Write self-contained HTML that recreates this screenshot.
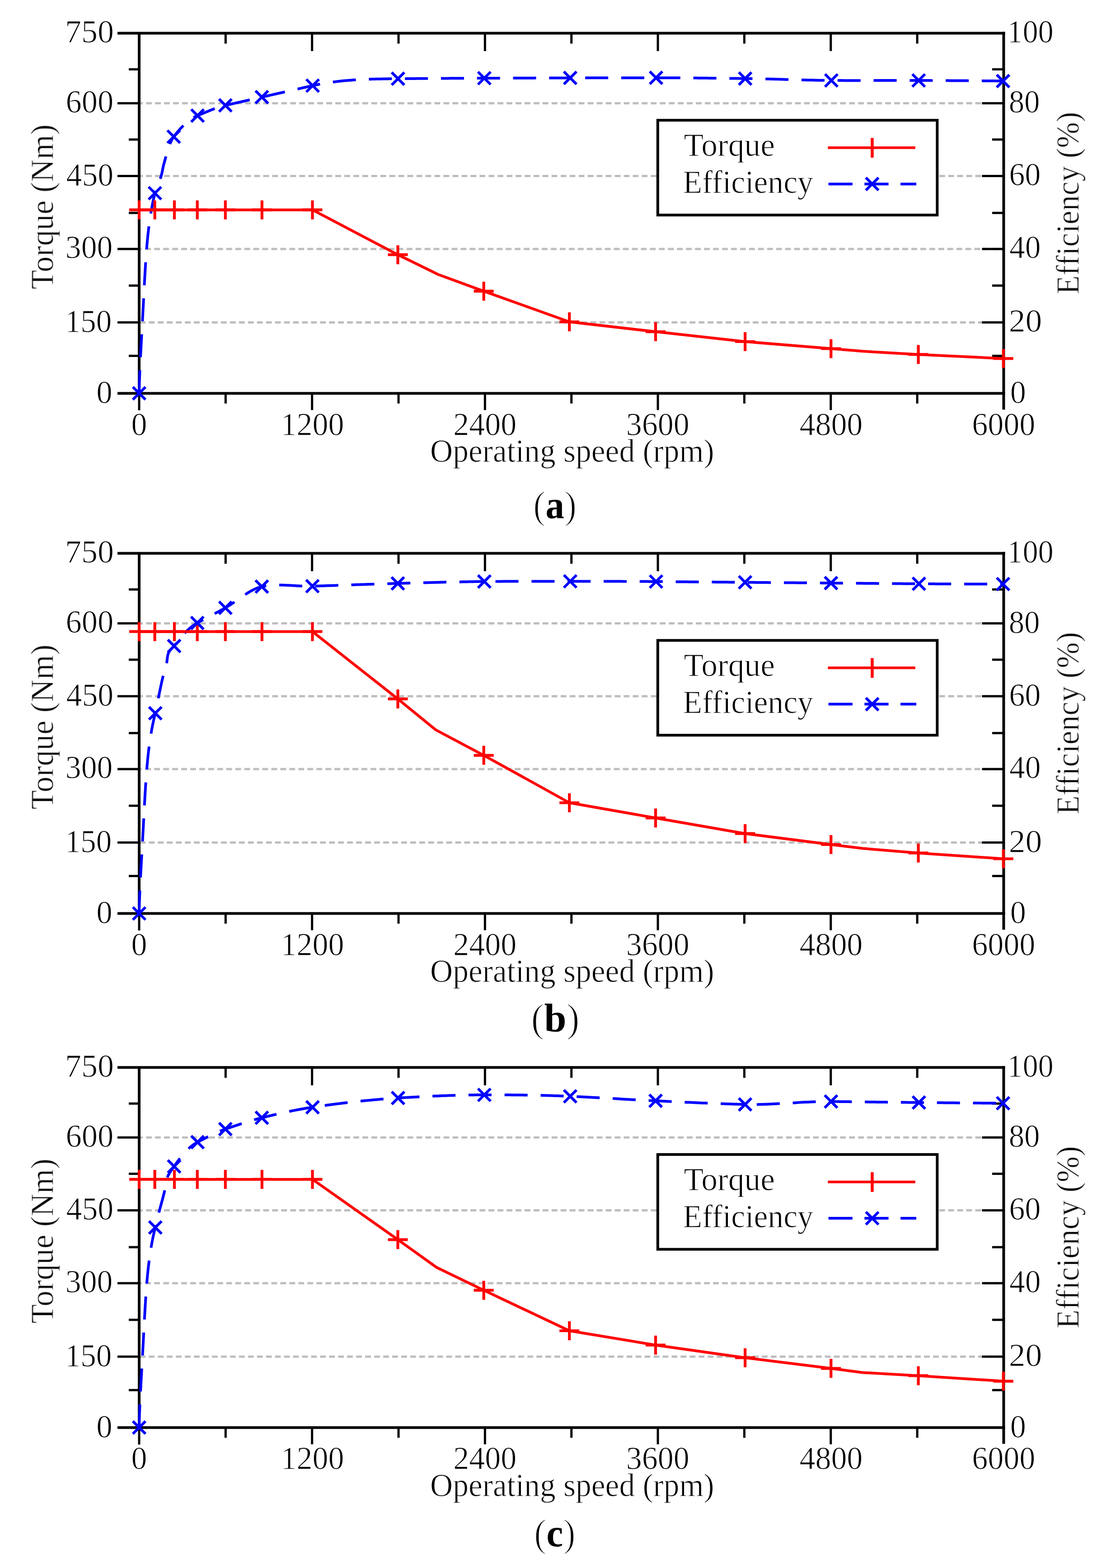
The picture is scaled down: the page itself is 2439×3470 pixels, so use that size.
<!DOCTYPE html>
<html><head><meta charset="utf-8"><title>Torque and efficiency vs operating speed</title>
<style>html,body{margin:0;padding:0;background:#fff;}svg{display:block;}text.t{stroke:#fff;stroke-width:1.1px;}tspan.p{stroke:#fff;stroke-width:2.2px;}</style></head>
<body><svg width="2439" height="3470" viewBox="0 0 2439 3470" font-family="'Liberation Serif','Times New Roman',serif" fill="#000" stroke-linecap="butt">
<defs><filter id="soft" x="0" y="0" width="2439" height="3470" filterUnits="userSpaceOnUse"><feGaussianBlur stdDeviation="0.55"/></filter></defs>
<rect width="2439" height="3470" fill="#fff"/>
<g filter="url(#soft)">
<line x1="308.00" y1="713.50" x2="2221.40" y2="713.50" stroke="#bebebe" stroke-width="5" stroke-dasharray="12.9 7.05" stroke-dashoffset="18.6"/>
<line x1="308.00" y1="551.00" x2="2221.40" y2="551.00" stroke="#bebebe" stroke-width="5" stroke-dasharray="12.9 7.05" stroke-dashoffset="6.75"/>
<line x1="308.00" y1="389.60" x2="2221.40" y2="389.60" stroke="#bebebe" stroke-width="5" stroke-dasharray="12.9 7.05" stroke-dashoffset="4.85"/>
<line x1="308.00" y1="228.40" x2="2221.40" y2="228.40" stroke="#bebebe" stroke-width="5" stroke-dasharray="12.9 7.05" stroke-dashoffset="4.85"/>
<line x1="308.00" y1="73.40" x2="308.00" y2="870.40" stroke="#000" stroke-width="6"/>
<line x1="260.00" y1="73.40" x2="2224.40" y2="73.40" stroke="#000" stroke-width="6"/>
<line x1="260.00" y1="870.40" x2="2224.40" y2="870.40" stroke="#000" stroke-width="6"/>
<line x1="2221.40" y1="70.40" x2="2221.40" y2="906.50" stroke="#000" stroke-width="6"/>
<line x1="285.00" y1="787.50" x2="308.00" y2="787.50" stroke="#000" stroke-width="5"/>
<line x1="2195.90" y1="787.50" x2="2221.40" y2="787.50" stroke="#000" stroke-width="5"/>
<line x1="260.00" y1="713.50" x2="308.00" y2="713.50" stroke="#000" stroke-width="5"/>
<line x1="2173.40" y1="713.50" x2="2221.40" y2="713.50" stroke="#000" stroke-width="5"/>
<line x1="285.00" y1="632.00" x2="308.00" y2="632.00" stroke="#000" stroke-width="5"/>
<line x1="2195.90" y1="632.00" x2="2221.40" y2="632.00" stroke="#000" stroke-width="5"/>
<line x1="260.00" y1="551.00" x2="308.00" y2="551.00" stroke="#000" stroke-width="5"/>
<line x1="2173.40" y1="551.00" x2="2221.40" y2="551.00" stroke="#000" stroke-width="5"/>
<line x1="285.00" y1="471.20" x2="308.00" y2="471.20" stroke="#000" stroke-width="5"/>
<line x1="2195.90" y1="471.20" x2="2221.40" y2="471.20" stroke="#000" stroke-width="5"/>
<line x1="260.00" y1="389.60" x2="308.00" y2="389.60" stroke="#000" stroke-width="5"/>
<line x1="2173.40" y1="389.60" x2="2221.40" y2="389.60" stroke="#000" stroke-width="5"/>
<line x1="285.00" y1="308.80" x2="308.00" y2="308.80" stroke="#000" stroke-width="5"/>
<line x1="2195.90" y1="308.80" x2="2221.40" y2="308.80" stroke="#000" stroke-width="5"/>
<line x1="260.00" y1="228.40" x2="308.00" y2="228.40" stroke="#000" stroke-width="5"/>
<line x1="2173.40" y1="228.40" x2="2221.40" y2="228.40" stroke="#000" stroke-width="5"/>
<line x1="285.00" y1="153.40" x2="308.00" y2="153.40" stroke="#000" stroke-width="5"/>
<line x1="2195.90" y1="153.40" x2="2221.40" y2="153.40" stroke="#000" stroke-width="5"/>
<line x1="308.00" y1="870.40" x2="308.00" y2="908.00" stroke="#000" stroke-width="5"/>
<line x1="499.34" y1="870.40" x2="499.34" y2="893.00" stroke="#000" stroke-width="5"/>
<line x1="499.34" y1="73.40" x2="499.34" y2="96.50" stroke="#000" stroke-width="5"/>
<line x1="690.68" y1="870.40" x2="690.68" y2="907.50" stroke="#000" stroke-width="5"/>
<line x1="690.68" y1="73.40" x2="690.68" y2="113.00" stroke="#000" stroke-width="5"/>
<line x1="882.02" y1="870.40" x2="882.02" y2="893.00" stroke="#000" stroke-width="5"/>
<line x1="882.02" y1="73.40" x2="882.02" y2="96.50" stroke="#000" stroke-width="5"/>
<line x1="1073.36" y1="870.40" x2="1073.36" y2="907.50" stroke="#000" stroke-width="5"/>
<line x1="1073.36" y1="73.40" x2="1073.36" y2="113.00" stroke="#000" stroke-width="5"/>
<line x1="1264.70" y1="870.40" x2="1264.70" y2="893.00" stroke="#000" stroke-width="5"/>
<line x1="1264.70" y1="73.40" x2="1264.70" y2="96.50" stroke="#000" stroke-width="5"/>
<line x1="1456.04" y1="870.40" x2="1456.04" y2="907.50" stroke="#000" stroke-width="5"/>
<line x1="1456.04" y1="73.40" x2="1456.04" y2="113.00" stroke="#000" stroke-width="5"/>
<line x1="1647.38" y1="870.40" x2="1647.38" y2="893.00" stroke="#000" stroke-width="5"/>
<line x1="1647.38" y1="73.40" x2="1647.38" y2="96.50" stroke="#000" stroke-width="5"/>
<line x1="1838.72" y1="870.40" x2="1838.72" y2="907.50" stroke="#000" stroke-width="5"/>
<line x1="1838.72" y1="73.40" x2="1838.72" y2="113.00" stroke="#000" stroke-width="5"/>
<line x1="2030.06" y1="870.40" x2="2030.06" y2="893.00" stroke="#000" stroke-width="5"/>
<line x1="2030.06" y1="73.40" x2="2030.06" y2="96.50" stroke="#000" stroke-width="5"/>
<polyline points="308.00,870.40 308.09,864.86 308.21,859.33 308.34,853.79 308.50,848.25 308.67,842.72 308.87,837.18 309.07,831.65 309.29,826.11 309.52,820.57 309.77,815.04 310.02,809.50 310.28,803.97 310.55,798.43 310.83,792.89 311.12,787.36 311.40,781.82 311.70,776.28 311.99,770.75 312.29,765.21 312.59,759.67 312.90,754.14 313.20,748.60 313.50,743.07 313.81,737.53 314.11,731.99 314.41,726.46 314.71,720.92 315.01,715.38 315.31,709.85 315.61,704.31 315.90,698.78 316.19,693.24 316.49,687.70 316.78,682.17 317.07,676.63 317.35,671.10 317.64,665.56 317.93,660.02 318.22,654.49 318.50,648.95 318.79,643.41 319.08,637.88 319.38,632.34 319.67,626.80 319.97,621.27 320.28,615.73 320.59,610.20 320.90,604.66 321.23,599.12 321.56,593.59 321.90,588.05 322.25,582.51 322.62,576.98 322.99,571.44 323.38,565.91 323.79,560.37 324.22,554.83 324.66,549.30 325.12,543.76 325.61,538.23 326.12,532.69 326.65,527.15 327.21,521.62 327.80,516.08 328.42,510.54 329.08,505.01 329.77,499.47 330.49,493.94 331.25,488.40 332.06,482.86 332.91,477.33 333.80,471.79 334.75,466.25 335.74,460.72 336.79,455.18 337.89,449.65 339.05,444.11 340.27,438.57 341.55,433.04 342.90,427.50 343.36,426.23 343.83,424.95 344.31,423.67 344.79,422.39 345.27,421.10 345.76,419.81 346.25,418.52 346.75,417.23 347.24,415.93 347.74,414.64 348.23,413.35 348.73,412.05 349.22,410.76 349.71,409.47 350.20,408.18 350.68,406.89 351.16,405.61 351.64,404.33 352.11,403.05 352.57,401.78 353.03,400.51 353.48,399.25 353.92,397.99 354.35,396.74 354.77,395.50 355.18,394.26 355.58,393.03 355.96,391.81 356.34,390.60 356.70,389.40 357.00,388.37 357.28,387.37 357.54,386.37 357.79,385.39 358.03,384.42 358.26,383.46 358.47,382.51 358.68,381.56 358.88,380.63 359.07,379.70 359.26,378.77 359.45,377.84 359.63,376.92 359.81,375.99 359.99,375.06 360.17,374.13 360.35,373.20 360.54,372.26 360.73,371.31 360.92,370.35 361.13,369.38 361.34,368.40 361.56,367.41 361.80,366.41 362.04,365.39 362.30,364.35 362.58,363.29 362.87,362.22 363.17,361.12 363.50,360.00 363.98,358.36 364.46,356.67 364.94,354.93 365.43,353.15 365.92,351.32 366.41,349.46 366.92,347.56 367.44,345.63 367.97,343.68 368.51,341.69 369.07,339.69 369.64,337.68 370.23,335.64 370.84,333.60 371.47,331.56 372.13,329.51 372.80,327.46 373.51,325.41 374.24,323.37 375.00,321.35 375.79,319.34 376.61,317.35 377.46,315.38 378.35,313.43 379.27,311.52 380.24,309.63 381.24,307.79 382.28,305.98 383.37,304.22 384.50,302.50 385.82,300.79 387.13,299.11 388.45,297.45 389.77,295.82 391.09,294.21 392.40,292.62 393.72,291.06 395.04,289.53 396.36,288.02 397.68,286.53 398.99,285.07 400.31,283.64 401.63,282.24 402.94,280.86 404.26,279.51 405.58,278.19 406.90,276.90 408.21,275.63 409.53,274.40 410.85,273.19 412.17,272.02 413.49,270.87 414.80,269.76 416.12,268.67 417.44,267.62 418.75,266.60 420.07,265.61 421.39,264.65 422.71,263.73 424.02,262.84 425.34,261.98 426.66,261.15 427.98,260.36 429.29,259.60 430.61,258.88 431.93,258.19 433.25,257.54 434.56,256.92 435.88,256.34 437.20,255.80 438.74,255.18 440.28,254.56 441.82,253.93 443.36,253.30 444.90,252.67 446.44,252.03 447.98,251.39 449.52,250.75 451.06,250.11 452.60,249.47 454.14,248.83 455.68,248.19 457.22,247.55 458.76,246.91 460.30,246.28 461.84,245.65 463.38,245.02 464.92,244.40 466.46,243.78 468.00,243.18 469.54,242.57 471.08,241.98 472.62,241.39 474.16,240.81 475.70,240.24 477.24,239.68 478.78,239.13 480.32,238.59 481.86,238.06 483.40,237.55 484.94,237.04 486.48,236.55 488.02,236.08 489.56,235.62 491.10,235.17 492.64,234.74 494.18,234.33 495.72,233.94 497.26,233.56 498.80,233.20 500.82,232.74 502.84,232.28 504.85,231.83 506.87,231.37 508.89,230.91 510.91,230.45 512.92,229.99 514.94,229.54 516.96,229.08 518.98,228.62 520.99,228.16 523.01,227.70 525.03,227.25 527.04,226.79 529.06,226.33 531.08,225.87 533.10,225.42 535.12,224.96 537.13,224.50 539.15,224.04 541.17,223.58 543.19,223.13 545.20,222.67 547.22,222.21 549.24,221.75 551.25,221.30 553.27,220.84 555.29,220.38 557.31,219.93 559.33,219.47 561.34,219.01 563.36,218.55 565.38,218.10 567.39,217.64 569.41,217.18 571.43,216.73 573.45,216.27 575.47,215.81 577.48,215.36 579.50,214.90 582.31,214.26 585.12,213.63 587.94,212.99 590.75,212.35 593.56,211.72 596.38,211.08 599.19,210.44 602.00,209.81 604.81,209.17 607.62,208.53 610.44,207.90 613.25,207.26 616.06,206.62 618.88,205.98 621.69,205.35 624.50,204.71 627.31,204.07 630.12,203.44 632.94,202.80 635.75,202.17 638.56,201.53 641.38,200.89 644.19,200.26 647.00,199.62 649.81,198.99 652.62,198.35 655.44,197.72 658.25,197.09 661.06,196.45 663.88,195.82 666.69,195.18 669.50,194.55 672.31,193.92 675.12,193.29 677.94,192.65 680.75,192.02 683.56,191.39 686.38,190.76 689.19,190.13 692.00,189.50 696.72,188.47 701.45,187.48 706.17,186.55 710.89,185.66 715.61,184.82 720.34,184.02 725.06,183.26 729.78,182.54 734.50,181.87 739.23,181.23 743.95,180.63 748.67,180.07 753.39,179.55 758.12,179.05 762.84,178.59 767.56,178.17 772.28,177.77 777.00,177.40 781.73,177.06 786.45,176.75 791.17,176.46 795.89,176.20 800.62,175.96 805.34,175.74 810.06,175.54 814.78,175.36 819.51,175.20 824.23,175.06 828.95,174.93 833.67,174.82 838.40,174.72 843.12,174.63 847.84,174.55 852.56,174.48 857.29,174.42 862.01,174.37 866.73,174.32 871.45,174.28 876.18,174.24 880.90,174.20 885.67,174.16 890.45,174.13 895.23,174.09 900.00,174.05 904.77,174.01 909.55,173.98 914.33,173.94 919.10,173.90 923.88,173.87 928.65,173.83 933.42,173.79 938.20,173.76 942.98,173.72 947.75,173.69 952.52,173.65 957.30,173.62 962.08,173.59 966.85,173.55 971.62,173.52 976.40,173.49 981.18,173.46 985.95,173.43 990.73,173.40 995.50,173.37 1000.28,173.34 1005.05,173.31 1009.83,173.28 1014.60,173.26 1019.38,173.23 1024.15,173.20 1028.93,173.18 1033.70,173.16 1038.48,173.13 1043.25,173.11 1048.03,173.09 1052.80,173.07 1057.58,173.05 1062.35,173.03 1067.12,173.02 1071.90,173.00 1076.65,172.98 1081.41,172.97 1086.16,172.95 1090.91,172.94 1095.66,172.92 1100.41,172.91 1105.17,172.89 1109.92,172.87 1114.67,172.86 1119.43,172.84 1124.18,172.83 1128.93,172.81 1133.68,172.80 1138.43,172.78 1143.19,172.76 1147.94,172.75 1152.69,172.73 1157.45,172.72 1162.20,172.70 1166.95,172.69 1171.70,172.67 1176.46,172.65 1181.21,172.64 1185.96,172.62 1190.71,172.61 1195.47,172.59 1200.22,172.58 1204.97,172.56 1209.72,172.55 1214.47,172.53 1219.23,172.52 1223.98,172.51 1228.73,172.49 1233.49,172.48 1238.24,172.47 1242.99,172.45 1247.74,172.44 1252.49,172.43 1257.25,172.41 1262.00,172.40 1266.75,172.39 1271.50,172.38 1276.25,172.36 1281.00,172.35 1285.75,172.34 1290.50,172.33 1295.25,172.32 1300.00,172.31 1304.75,172.31 1309.50,172.30 1314.25,172.29 1319.00,172.28 1323.75,172.27 1328.50,172.27 1333.25,172.26 1338.00,172.26 1342.75,172.25 1347.50,172.24 1352.25,172.24 1357.00,172.23 1361.75,172.23 1366.50,172.23 1371.25,172.22 1376.00,172.22 1380.75,172.22 1385.50,172.21 1390.25,172.21 1395.00,172.21 1399.75,172.21 1404.50,172.20 1409.25,172.20 1414.00,172.20 1418.75,172.20 1423.50,172.20 1428.25,172.20 1433.00,172.20 1437.75,172.20 1442.50,172.20 1447.25,172.20 1452.00,172.20 1456.93,172.20 1461.86,172.21 1466.79,172.22 1471.72,172.23 1476.65,172.24 1481.58,172.25 1486.51,172.27 1491.44,172.29 1496.37,172.32 1501.30,172.34 1506.23,172.37 1511.16,172.40 1516.09,172.43 1521.02,172.46 1525.95,172.50 1530.88,172.54 1535.81,172.58 1540.74,172.62 1545.67,172.66 1550.60,172.70 1555.53,172.75 1560.46,172.80 1565.39,172.84 1570.32,172.89 1575.25,172.94 1580.18,173.00 1585.11,173.05 1590.04,173.10 1594.97,173.16 1599.90,173.21 1604.83,173.27 1609.76,173.33 1614.69,173.38 1619.62,173.44 1624.55,173.50 1629.48,173.56 1634.41,173.62 1639.34,173.68 1644.27,173.74 1649.20,173.80 1653.97,173.86 1658.74,173.93 1663.50,174.01 1668.27,174.09 1673.04,174.18 1677.81,174.28 1682.57,174.38 1687.34,174.49 1692.11,174.60 1696.88,174.72 1701.64,174.84 1706.41,174.96 1711.18,175.09 1715.95,175.22 1720.71,175.35 1725.48,175.48 1730.25,175.61 1735.02,175.75 1739.78,175.88 1744.55,176.02 1749.32,176.15 1754.09,176.28 1758.85,176.41 1763.62,176.54 1768.39,176.67 1773.15,176.79 1777.92,176.92 1782.69,177.03 1787.46,177.15 1792.23,177.26 1796.99,177.36 1801.76,177.46 1806.53,177.55 1811.30,177.64 1816.06,177.72 1820.83,177.79 1825.60,177.85 1830.37,177.91 1835.13,177.96 1839.90,178.00 1844.73,178.03 1849.57,178.06 1854.40,178.09 1859.23,178.11 1864.06,178.12 1868.89,178.13 1873.73,178.14 1878.56,178.15 1883.39,178.15 1888.23,178.15 1893.06,178.15 1897.89,178.14 1902.72,178.14 1907.56,178.13 1912.39,178.12 1917.22,178.11 1922.05,178.09 1926.88,178.08 1931.72,178.06 1936.55,178.05 1941.38,178.03 1946.22,178.02 1951.05,178.00 1955.88,177.99 1960.71,177.98 1965.55,177.96 1970.38,177.95 1975.21,177.94 1980.04,177.93 1984.88,177.92 1989.71,177.92 1994.54,177.91 1999.37,177.91 2004.20,177.92 2009.04,177.92 2013.87,177.93 2018.70,177.94 2023.54,177.96 2028.37,177.98 2033.20,178.00 2037.87,178.02 2042.54,178.05 2047.21,178.07 2051.88,178.10 2056.55,178.12 2061.22,178.15 2065.89,178.17 2070.56,178.20 2075.23,178.22 2079.90,178.25 2084.57,178.28 2089.24,178.30 2093.91,178.33 2098.58,178.36 2103.25,178.38 2107.92,178.41 2112.59,178.44 2117.26,178.47 2121.93,178.50 2126.60,178.53 2131.27,178.56 2135.94,178.59 2140.61,178.62 2145.28,178.66 2149.95,178.69 2154.62,178.72 2159.29,178.76 2163.96,178.79 2168.63,178.83 2173.30,178.87 2177.97,178.91 2182.64,178.95 2187.31,178.99 2191.98,179.03 2196.65,179.07 2201.32,179.11 2205.99,179.16 2210.66,179.20 2215.33,179.25 2220.00,179.30" fill="none" stroke="#0000ff" stroke-width="6" stroke-dasharray="51 28.8" stroke-linejoin="round"/>
<polyline points="308.0,464.4 342.6,464.4 386.0,464.4 436.7,464.4 498.8,464.4 579.8,464.4 691.5,464.4 880.5,563.7 970.0,607.5 1070.7,644.4 1260.2,712.3 1451.0,734.1 1649.1,756.0 1839.2,771.5 1909.0,777.3 2032.5,784.4 2220.7,793.4" fill="none" stroke="#ff0000" stroke-width="6" stroke-linejoin="round"/>
<path d="M286.0 464.4H330.0M308.0 443.4V485.4M320.6 464.4H364.6M342.6 443.4V485.4M364.0 464.4H408.0M386.0 443.4V485.4M414.7 464.4H458.7M436.7 443.4V485.4M476.8 464.4H520.8M498.8 443.4V485.4M557.8 464.4H601.8M579.8 443.4V485.4M669.5 464.4H713.5M691.5 443.4V485.4M858.5 563.7H902.5M880.5 542.7V584.7M1048.7 644.4H1092.7M1070.7 623.4V665.4M1238.2 712.3H1282.2M1260.2 691.3V733.3M1429.0 734.1H1473.0M1451.0 713.1V755.1M1627.1 756.0H1671.1M1649.1 735.0V777.0M1817.2 771.5H1861.2M1839.2 750.5V792.5M2010.5 784.4H2054.5M2032.5 763.4V805.4M2198.7 793.4H2242.7M2220.7 772.4V814.4" stroke="#ff0000" stroke-width="6.2" fill="none"/>
<path d="M294.0 856.4L322.0 884.4M294.0 884.4L322.0 856.4M328.9 413.5L356.9 441.5M328.9 441.5L356.9 413.5M370.5 288.5L398.5 316.5M370.5 316.5L398.5 288.5M423.2 241.8L451.2 269.8M423.2 269.8L451.2 241.8M484.8 219.2L512.8 247.2M484.8 247.2L512.8 219.2M565.5 200.9L593.5 228.9M565.5 228.9L593.5 200.9M678.0 175.5L706.0 203.5M678.0 203.5L706.0 175.5M866.9 160.2L894.9 188.2M866.9 188.2L894.9 160.2M1057.9 159.0L1085.9 187.0M1057.9 187.0L1085.9 159.0M1248.0 158.4L1276.0 186.4M1248.0 186.4L1276.0 158.4M1438.0 158.2L1466.0 186.2M1438.0 186.2L1466.0 158.2M1635.2 159.8L1663.2 187.8M1635.2 187.8L1663.2 159.8M1825.9 164.0L1853.9 192.0M1825.9 192.0L1853.9 164.0M2019.2 164.0L2047.2 192.0M2019.2 192.0L2047.2 164.0M2206.0 165.3L2234.0 193.3M2206.0 193.3L2234.0 165.3" stroke="#0000ff" stroke-width="6" fill="none"/>
<rect x="1455.8" y="266.1" width="618.5" height="209.8" fill="#fff" stroke="#000" stroke-width="6"/>
<text class="t" x="1513.47" y="345.00" font-size="72" textLength="201.38" lengthAdjust="spacingAndGlyphs">Torque</text>
<text class="t" x="1511.41" y="427.10" font-size="72" textLength="288.41" lengthAdjust="spacingAndGlyphs">Efficiency</text>
<line x1="1832.30" y1="326.80" x2="2025.80" y2="326.80" stroke="#ff0000" stroke-width="5.7"/>
<line x1="1930.40" y1="305.30" x2="1930.40" y2="348.90" stroke="#ff0000" stroke-width="6.5"/>
<line x1="1833.60" y1="407.20" x2="2028.00" y2="407.20" stroke="#0000ff" stroke-width="6" stroke-dasharray="53.2 26.5"/>
<path d="M1916.4 393.2L1944.4 421.2M1916.4 421.2L1944.4 393.2" stroke="#0000ff" stroke-width="6" fill="none"/>
<text class="t" x="143.92" y="93.70" font-size="71" textLength="107.96" lengthAdjust="spacingAndGlyphs">750</text>
<text class="t" x="145.43" y="249.30" font-size="71" textLength="105.69" lengthAdjust="spacingAndGlyphs">600</text>
<text class="t" x="146.61" y="410.60" font-size="71" textLength="104.48" lengthAdjust="spacingAndGlyphs">450</text>
<text class="t" x="144.82" y="571.30" font-size="71" textLength="104.47" lengthAdjust="spacingAndGlyphs">300</text>
<text class="t" x="143.89" y="734.70" font-size="71" textLength="103.47" lengthAdjust="spacingAndGlyphs">150</text>
<text class="t" x="213.26" y="891.80" font-size="71" textLength="35.48" lengthAdjust="spacingAndGlyphs">0</text>
<text class="t" x="2229.36" y="94.30" font-size="71" textLength="102.37" lengthAdjust="spacingAndGlyphs">100</text>
<text class="t" x="2232.65" y="249.40" font-size="71" textLength="68.80" lengthAdjust="spacingAndGlyphs">80</text>
<text class="t" x="2233.24" y="410.40" font-size="71" textLength="70.16" lengthAdjust="spacingAndGlyphs">60</text>
<text class="t" x="2234.01" y="571.30" font-size="71" textLength="69.36" lengthAdjust="spacingAndGlyphs">40</text>
<text class="t" x="2232.80" y="734.40" font-size="71" textLength="73.44" lengthAdjust="spacingAndGlyphs">20</text>
<text class="t" x="2235.80" y="891.80" font-size="71" textLength="35.00" lengthAdjust="spacingAndGlyphs">0</text>
<text class="t" x="290.52" y="962.60" font-size="71" textLength="34.97" lengthAdjust="spacingAndGlyphs">0</text>
<text class="t" x="621.50" y="962.60" font-size="71" textLength="139.87" lengthAdjust="spacingAndGlyphs">1200</text>
<text class="t" x="1003.25" y="962.60" font-size="71" textLength="139.87" lengthAdjust="spacingAndGlyphs">2400</text>
<text class="t" x="1385.76" y="962.60" font-size="71" textLength="139.87" lengthAdjust="spacingAndGlyphs">3600</text>
<text class="t" x="1769.48" y="962.60" font-size="71" textLength="139.87" lengthAdjust="spacingAndGlyphs">4800</text>
<text class="t" x="2151.29" y="962.60" font-size="71" textLength="139.87" lengthAdjust="spacingAndGlyphs">6000</text>
<text class="t" x="952.12" y="1021.80" font-size="72" textLength="628.41" lengthAdjust="spacingAndGlyphs">Operating speed (rpm)</text>
<text class="t" x="-1.39" y="0.00" font-size="72" textLength="364.96" lengthAdjust="spacingAndGlyphs" transform="translate(117.40,638.60) rotate(-90)">Torque (Nm)</text>
<text class="t" x="-2.06" y="0.00" font-size="72" textLength="403.95" lengthAdjust="spacingAndGlyphs" transform="translate(2387.40,649.40) rotate(-90)">Efficiency (%)</text>
<line x1="308.00" y1="1864.60" x2="2221.40" y2="1864.60" stroke="#bebebe" stroke-width="5" stroke-dasharray="12.9 7.05" stroke-dashoffset="18.6"/>
<line x1="308.00" y1="1702.10" x2="2221.40" y2="1702.10" stroke="#bebebe" stroke-width="5" stroke-dasharray="12.9 7.05" stroke-dashoffset="6.75"/>
<line x1="308.00" y1="1540.70" x2="2221.40" y2="1540.70" stroke="#bebebe" stroke-width="5" stroke-dasharray="12.9 7.05" stroke-dashoffset="4.85"/>
<line x1="308.00" y1="1379.50" x2="2221.40" y2="1379.50" stroke="#bebebe" stroke-width="5" stroke-dasharray="12.9 7.05" stroke-dashoffset="4.85"/>
<line x1="308.00" y1="1224.50" x2="308.00" y2="2021.50" stroke="#000" stroke-width="6"/>
<line x1="260.00" y1="1224.50" x2="2224.40" y2="1224.50" stroke="#000" stroke-width="6"/>
<line x1="260.00" y1="2021.50" x2="2224.40" y2="2021.50" stroke="#000" stroke-width="6"/>
<line x1="2221.40" y1="1221.50" x2="2221.40" y2="2057.60" stroke="#000" stroke-width="6"/>
<line x1="285.00" y1="1938.60" x2="308.00" y2="1938.60" stroke="#000" stroke-width="5"/>
<line x1="2195.90" y1="1938.60" x2="2221.40" y2="1938.60" stroke="#000" stroke-width="5"/>
<line x1="260.00" y1="1864.60" x2="308.00" y2="1864.60" stroke="#000" stroke-width="5"/>
<line x1="2173.40" y1="1864.60" x2="2221.40" y2="1864.60" stroke="#000" stroke-width="5"/>
<line x1="285.00" y1="1783.10" x2="308.00" y2="1783.10" stroke="#000" stroke-width="5"/>
<line x1="2195.90" y1="1783.10" x2="2221.40" y2="1783.10" stroke="#000" stroke-width="5"/>
<line x1="260.00" y1="1702.10" x2="308.00" y2="1702.10" stroke="#000" stroke-width="5"/>
<line x1="2173.40" y1="1702.10" x2="2221.40" y2="1702.10" stroke="#000" stroke-width="5"/>
<line x1="285.00" y1="1622.30" x2="308.00" y2="1622.30" stroke="#000" stroke-width="5"/>
<line x1="2195.90" y1="1622.30" x2="2221.40" y2="1622.30" stroke="#000" stroke-width="5"/>
<line x1="260.00" y1="1540.70" x2="308.00" y2="1540.70" stroke="#000" stroke-width="5"/>
<line x1="2173.40" y1="1540.70" x2="2221.40" y2="1540.70" stroke="#000" stroke-width="5"/>
<line x1="285.00" y1="1459.90" x2="308.00" y2="1459.90" stroke="#000" stroke-width="5"/>
<line x1="2195.90" y1="1459.90" x2="2221.40" y2="1459.90" stroke="#000" stroke-width="5"/>
<line x1="260.00" y1="1379.50" x2="308.00" y2="1379.50" stroke="#000" stroke-width="5"/>
<line x1="2173.40" y1="1379.50" x2="2221.40" y2="1379.50" stroke="#000" stroke-width="5"/>
<line x1="285.00" y1="1304.50" x2="308.00" y2="1304.50" stroke="#000" stroke-width="5"/>
<line x1="2195.90" y1="1304.50" x2="2221.40" y2="1304.50" stroke="#000" stroke-width="5"/>
<line x1="308.00" y1="2021.50" x2="308.00" y2="2059.10" stroke="#000" stroke-width="5"/>
<line x1="499.34" y1="2021.50" x2="499.34" y2="2044.10" stroke="#000" stroke-width="5"/>
<line x1="499.34" y1="1224.50" x2="499.34" y2="1247.60" stroke="#000" stroke-width="5"/>
<line x1="690.68" y1="2021.50" x2="690.68" y2="2058.60" stroke="#000" stroke-width="5"/>
<line x1="690.68" y1="1224.50" x2="690.68" y2="1264.10" stroke="#000" stroke-width="5"/>
<line x1="882.02" y1="2021.50" x2="882.02" y2="2044.10" stroke="#000" stroke-width="5"/>
<line x1="882.02" y1="1224.50" x2="882.02" y2="1247.60" stroke="#000" stroke-width="5"/>
<line x1="1073.36" y1="2021.50" x2="1073.36" y2="2058.60" stroke="#000" stroke-width="5"/>
<line x1="1073.36" y1="1224.50" x2="1073.36" y2="1264.10" stroke="#000" stroke-width="5"/>
<line x1="1264.70" y1="2021.50" x2="1264.70" y2="2044.10" stroke="#000" stroke-width="5"/>
<line x1="1264.70" y1="1224.50" x2="1264.70" y2="1247.60" stroke="#000" stroke-width="5"/>
<line x1="1456.04" y1="2021.50" x2="1456.04" y2="2058.60" stroke="#000" stroke-width="5"/>
<line x1="1456.04" y1="1224.50" x2="1456.04" y2="1264.10" stroke="#000" stroke-width="5"/>
<line x1="1647.38" y1="2021.50" x2="1647.38" y2="2044.10" stroke="#000" stroke-width="5"/>
<line x1="1647.38" y1="1224.50" x2="1647.38" y2="1247.60" stroke="#000" stroke-width="5"/>
<line x1="1838.72" y1="2021.50" x2="1838.72" y2="2058.60" stroke="#000" stroke-width="5"/>
<line x1="1838.72" y1="1224.50" x2="1838.72" y2="1264.10" stroke="#000" stroke-width="5"/>
<line x1="2030.06" y1="2021.50" x2="2030.06" y2="2044.10" stroke="#000" stroke-width="5"/>
<line x1="2030.06" y1="1224.50" x2="2030.06" y2="1247.60" stroke="#000" stroke-width="5"/>
<polyline points="308.00,2021.50 308.09,2015.96 308.21,2010.42 308.35,2004.88 308.51,1999.35 308.69,1993.81 308.89,1988.27 309.10,1982.73 309.32,1977.19 309.56,1971.65 309.81,1966.11 310.07,1960.57 310.34,1955.04 310.61,1949.50 310.90,1943.96 311.19,1938.42 311.48,1932.88 311.78,1927.34 312.08,1921.80 312.39,1916.26 312.70,1910.72 313.01,1905.19 313.32,1899.65 313.63,1894.11 313.94,1888.57 314.25,1883.03 314.56,1877.49 314.87,1871.95 315.17,1866.41 315.48,1860.88 315.78,1855.34 316.08,1849.80 316.38,1844.26 316.68,1838.72 316.98,1833.18 317.27,1827.64 317.57,1822.11 317.86,1816.57 318.16,1811.03 318.45,1805.49 318.75,1799.95 319.04,1794.41 319.34,1788.87 319.64,1783.33 319.94,1777.80 320.25,1772.26 320.56,1766.72 320.88,1761.18 321.20,1755.64 321.53,1750.10 321.87,1744.56 322.22,1739.02 322.58,1733.49 322.95,1727.95 323.34,1722.41 323.74,1716.87 324.15,1711.33 324.59,1705.79 325.04,1700.25 325.51,1694.71 326.01,1689.18 326.53,1683.64 327.08,1678.10 327.65,1672.56 328.26,1667.02 328.89,1661.48 329.56,1655.94 330.26,1650.40 331.01,1644.87 331.79,1639.33 332.61,1633.79 333.48,1628.25 334.40,1622.71 335.36,1617.17 336.38,1611.63 337.45,1606.09 338.57,1600.56 339.76,1595.02 341.01,1589.48 342.32,1583.94 343.70,1578.40 343.92,1577.33 344.13,1576.26 344.34,1575.20 344.55,1574.14 344.76,1573.09 344.97,1572.04 345.18,1571.00 345.39,1569.96 345.59,1568.92 345.80,1567.88 346.01,1566.84 346.21,1565.79 346.42,1564.75 346.63,1563.71 346.84,1562.66 347.05,1561.61 347.26,1560.55 347.47,1559.49 347.68,1558.43 347.90,1557.35 348.12,1556.27 348.34,1555.18 348.56,1554.09 348.78,1552.98 349.01,1551.86 349.24,1550.73 349.48,1549.60 349.71,1548.44 349.95,1547.28 350.20,1546.10 350.51,1544.62 350.82,1543.11 351.14,1541.57 351.47,1539.99 351.80,1538.39 352.13,1536.76 352.47,1535.12 352.81,1533.45 353.16,1531.77 353.51,1530.07 353.87,1528.36 354.22,1526.64 354.58,1524.92 354.94,1523.20 355.31,1521.47 355.67,1519.75 356.04,1518.03 356.40,1516.32 356.77,1514.62 357.13,1512.94 357.50,1511.27 357.86,1509.62 358.22,1507.99 358.59,1506.38 358.94,1504.80 359.30,1503.25 359.66,1501.73 360.01,1500.25 360.36,1498.81 360.70,1497.40 360.96,1496.37 361.22,1495.35 361.48,1494.35 361.75,1493.36 362.01,1492.39 362.28,1491.43 362.54,1490.49 362.81,1489.55 363.08,1488.63 363.35,1487.71 363.62,1486.81 363.88,1485.91 364.15,1485.02 364.41,1484.14 364.68,1483.26 364.94,1482.39 365.20,1481.52 365.46,1480.66 365.71,1479.79 365.97,1478.93 366.22,1478.07 366.46,1477.21 366.71,1476.35 366.95,1475.48 367.18,1474.61 367.42,1473.74 367.65,1472.87 367.87,1471.98 368.09,1471.10 368.30,1470.20 368.50,1469.33 368.67,1468.45 368.84,1467.56 368.99,1466.67 369.14,1465.77 369.27,1464.87 369.40,1463.96 369.51,1463.05 369.63,1462.14 369.74,1461.23 369.84,1460.32 369.95,1459.41 370.05,1458.50 370.16,1457.60 370.27,1456.70 370.38,1455.81 370.50,1454.92 370.63,1454.04 370.76,1453.17 370.91,1452.31 371.06,1451.45 371.23,1450.61 371.41,1449.78 371.61,1448.97 371.83,1448.17 372.06,1447.38 372.31,1446.61 372.58,1445.85 372.88,1445.12 373.20,1444.40 373.49,1443.81 373.78,1443.24 374.08,1442.68 374.38,1442.15 374.69,1441.64 375.01,1441.14 375.34,1440.65 375.67,1440.18 376.01,1439.71 376.36,1439.26 376.72,1438.81 377.08,1438.37 377.46,1437.94 377.84,1437.50 378.23,1437.07 378.64,1436.64 379.05,1436.20 379.47,1435.76 379.90,1435.32 380.34,1434.86 380.80,1434.40 381.26,1433.93 381.74,1433.45 382.22,1432.95 382.72,1432.44 383.23,1431.91 383.76,1431.37 384.29,1430.80 384.84,1430.21 385.40,1429.60 386.68,1427.84 387.96,1426.10 389.25,1424.38 390.53,1422.69 391.81,1421.01 393.09,1419.36 394.38,1417.73 395.66,1416.13 396.94,1414.55 398.22,1412.99 399.51,1411.45 400.79,1409.94 402.07,1408.45 403.35,1406.99 404.64,1405.55 405.92,1404.14 407.20,1402.76 408.48,1401.39 409.77,1400.06 411.05,1398.75 412.33,1397.47 413.62,1396.22 414.90,1394.99 416.18,1393.79 417.46,1392.62 418.75,1391.48 420.03,1390.36 421.31,1389.28 422.59,1388.22 423.88,1387.19 425.16,1386.20 426.44,1385.23 427.72,1384.29 429.00,1383.38 430.29,1382.51 431.57,1381.66 432.85,1380.85 434.13,1380.07 435.42,1379.32 436.70,1378.60 438.25,1377.75 439.81,1376.91 441.36,1376.06 442.91,1375.22 444.46,1374.39 446.01,1373.55 447.57,1372.71 449.12,1371.88 450.67,1371.05 452.23,1370.22 453.78,1369.39 455.33,1368.56 456.88,1367.73 458.44,1366.90 459.99,1366.07 461.54,1365.25 463.09,1364.42 464.64,1363.59 466.20,1362.76 467.75,1361.94 469.30,1361.11 470.86,1360.28 472.41,1359.45 473.96,1358.62 475.51,1357.79 477.06,1356.96 478.62,1356.13 480.17,1355.29 481.72,1354.45 483.27,1353.62 484.83,1352.77 486.38,1351.93 487.93,1351.09 489.49,1350.24 491.04,1349.39 492.59,1348.54 494.14,1347.68 495.69,1346.83 497.25,1345.96 498.80,1345.10 500.82,1343.95 502.84,1342.77 504.85,1341.55 506.87,1340.30 508.89,1339.01 510.91,1337.70 512.92,1336.37 514.94,1335.01 516.96,1333.64 518.98,1332.25 520.99,1330.85 523.01,1329.44 525.03,1328.02 527.04,1326.60 529.06,1325.19 531.08,1323.77 533.10,1322.36 535.12,1320.95 537.13,1319.56 539.15,1318.18 541.17,1316.82 543.19,1315.48 545.20,1314.17 547.22,1312.88 549.24,1311.62 551.25,1310.39 553.27,1309.19 555.29,1308.04 557.31,1306.92 559.33,1305.85 561.34,1304.82 563.36,1303.85 565.38,1302.93 567.39,1302.06 569.41,1301.25 571.43,1300.51 573.45,1299.83 575.47,1299.21 577.48,1298.67 579.50,1298.20 582.30,1297.63 585.10,1297.12 587.90,1296.66 590.70,1296.26 593.50,1295.91 596.30,1295.61 599.10,1295.35 601.90,1295.14 604.70,1294.97 607.50,1294.84 610.30,1294.74 613.10,1294.68 615.90,1294.65 618.70,1294.65 621.50,1294.68 624.30,1294.73 627.10,1294.81 629.90,1294.91 632.70,1295.02 635.50,1295.15 638.30,1295.29 641.10,1295.44 643.90,1295.60 646.70,1295.76 649.50,1295.93 652.30,1296.10 655.10,1296.27 657.90,1296.43 660.70,1296.59 663.50,1296.73 666.30,1296.87 669.10,1296.99 671.90,1297.10 674.70,1297.19 677.50,1297.26 680.30,1297.30 683.10,1297.32 685.90,1297.31 688.70,1297.27 691.50,1297.20 696.23,1297.05 700.95,1296.90 705.67,1296.74 710.40,1296.59 715.12,1296.43 719.85,1296.27 724.58,1296.12 729.30,1295.96 734.02,1295.80 738.75,1295.64 743.48,1295.48 748.20,1295.31 752.92,1295.15 757.65,1294.99 762.38,1294.83 767.10,1294.67 771.83,1294.51 776.55,1294.35 781.27,1294.19 786.00,1294.03 790.73,1293.87 795.45,1293.71 800.17,1293.55 804.90,1293.40 809.62,1293.24 814.35,1293.09 819.08,1292.93 823.80,1292.78 828.52,1292.63 833.25,1292.48 837.98,1292.33 842.70,1292.19 847.42,1292.04 852.15,1291.90 856.88,1291.76 861.60,1291.63 866.33,1291.49 871.05,1291.36 875.77,1291.23 880.50,1291.10 885.28,1290.97 890.07,1290.84 894.86,1290.71 899.64,1290.58 904.42,1290.45 909.21,1290.32 914.00,1290.19 918.78,1290.06 923.57,1289.93 928.35,1289.80 933.13,1289.67 937.92,1289.54 942.71,1289.41 947.49,1289.29 952.28,1289.16 957.06,1289.04 961.85,1288.92 966.63,1288.80 971.42,1288.68 976.20,1288.56 980.99,1288.45 985.77,1288.33 990.56,1288.22 995.34,1288.12 1000.12,1288.01 1004.91,1287.91 1009.70,1287.81 1014.48,1287.72 1019.27,1287.63 1024.05,1287.54 1028.84,1287.46 1033.62,1287.38 1038.40,1287.30 1043.19,1287.23 1047.98,1287.16 1052.76,1287.10 1057.55,1287.04 1062.33,1286.99 1067.12,1286.94 1071.90,1286.90 1076.65,1286.86 1081.41,1286.82 1086.16,1286.79 1090.91,1286.76 1095.66,1286.73 1100.41,1286.70 1105.17,1286.67 1109.92,1286.65 1114.67,1286.62 1119.43,1286.60 1124.18,1286.58 1128.93,1286.56 1133.68,1286.55 1138.43,1286.53 1143.19,1286.52 1147.94,1286.50 1152.69,1286.49 1157.45,1286.48 1162.20,1286.47 1166.95,1286.47 1171.70,1286.46 1176.46,1286.45 1181.21,1286.45 1185.96,1286.45 1190.71,1286.44 1195.47,1286.44 1200.22,1286.44 1204.97,1286.44 1209.72,1286.45 1214.47,1286.45 1219.23,1286.45 1223.98,1286.45 1228.73,1286.46 1233.49,1286.46 1238.24,1286.47 1242.99,1286.47 1247.74,1286.48 1252.49,1286.49 1257.25,1286.49 1262.00,1286.50 1266.75,1286.51 1271.50,1286.51 1276.25,1286.52 1281.00,1286.52 1285.75,1286.53 1290.50,1286.53 1295.25,1286.54 1300.00,1286.54 1304.75,1286.54 1309.50,1286.54 1314.25,1286.55 1319.00,1286.55 1323.75,1286.55 1328.50,1286.56 1333.25,1286.56 1338.00,1286.57 1342.75,1286.57 1347.50,1286.58 1352.25,1286.58 1357.00,1286.59 1361.75,1286.59 1366.50,1286.60 1371.25,1286.61 1376.00,1286.62 1380.75,1286.63 1385.50,1286.65 1390.25,1286.66 1395.00,1286.68 1399.75,1286.69 1404.50,1286.71 1409.25,1286.73 1414.00,1286.75 1418.75,1286.78 1423.50,1286.80 1428.25,1286.83 1433.00,1286.86 1437.75,1286.89 1442.50,1286.93 1447.25,1286.96 1452.00,1287.00 1456.93,1287.04 1461.86,1287.08 1466.78,1287.12 1471.71,1287.17 1476.64,1287.21 1481.57,1287.25 1486.49,1287.29 1491.42,1287.33 1496.35,1287.38 1501.28,1287.42 1506.20,1287.46 1511.13,1287.51 1516.06,1287.55 1520.98,1287.59 1525.91,1287.63 1530.84,1287.68 1535.77,1287.72 1540.69,1287.76 1545.62,1287.81 1550.55,1287.85 1555.48,1287.89 1560.40,1287.93 1565.33,1287.98 1570.26,1288.02 1575.19,1288.06 1580.12,1288.11 1585.04,1288.15 1589.97,1288.19 1594.90,1288.24 1599.82,1288.28 1604.75,1288.32 1609.68,1288.36 1614.61,1288.41 1619.53,1288.45 1624.46,1288.49 1629.39,1288.53 1634.32,1288.57 1639.24,1288.62 1644.17,1288.66 1649.10,1288.70 1653.85,1288.74 1658.61,1288.78 1663.36,1288.82 1668.11,1288.86 1672.86,1288.90 1677.62,1288.94 1682.37,1288.98 1687.12,1289.02 1691.87,1289.06 1696.62,1289.10 1701.38,1289.14 1706.13,1289.18 1710.88,1289.22 1715.63,1289.26 1720.39,1289.30 1725.14,1289.34 1729.89,1289.38 1734.64,1289.42 1739.40,1289.46 1744.15,1289.50 1748.90,1289.54 1753.65,1289.58 1758.41,1289.62 1763.16,1289.66 1767.91,1289.70 1772.66,1289.74 1777.42,1289.78 1782.17,1289.82 1786.92,1289.86 1791.67,1289.90 1796.43,1289.94 1801.18,1289.98 1805.93,1290.02 1810.68,1290.06 1815.44,1290.10 1820.19,1290.14 1824.94,1290.18 1829.69,1290.22 1834.45,1290.26 1839.20,1290.30 1844.07,1290.34 1848.93,1290.38 1853.80,1290.42 1858.66,1290.46 1863.53,1290.50 1868.39,1290.54 1873.26,1290.59 1878.12,1290.63 1882.99,1290.67 1887.85,1290.71 1892.71,1290.75 1897.58,1290.79 1902.44,1290.83 1907.31,1290.87 1912.17,1290.91 1917.04,1290.95 1921.90,1290.99 1926.77,1291.03 1931.63,1291.07 1936.50,1291.11 1941.37,1291.15 1946.23,1291.19 1951.10,1291.23 1955.96,1291.27 1960.83,1291.31 1965.69,1291.35 1970.56,1291.39 1975.42,1291.43 1980.28,1291.47 1985.15,1291.51 1990.01,1291.55 1994.88,1291.59 1999.74,1291.63 2004.61,1291.66 2009.47,1291.70 2014.34,1291.74 2019.20,1291.78 2024.07,1291.82 2028.93,1291.86 2033.80,1291.90 2038.45,1291.94 2043.11,1291.97 2047.76,1292.00 2052.42,1292.04 2057.07,1292.07 2061.73,1292.10 2066.38,1292.12 2071.04,1292.15 2075.70,1292.17 2080.35,1292.20 2085.01,1292.22 2089.66,1292.24 2094.32,1292.26 2098.97,1292.28 2103.62,1292.30 2108.28,1292.31 2112.93,1292.33 2117.59,1292.34 2122.24,1292.36 2126.90,1292.37 2131.55,1292.38 2136.21,1292.39 2140.86,1292.40 2145.52,1292.41 2150.18,1292.42 2154.83,1292.43 2159.49,1292.44 2164.14,1292.44 2168.80,1292.45 2173.45,1292.46 2178.11,1292.46 2182.76,1292.47 2187.41,1292.47 2192.07,1292.48 2196.72,1292.48 2201.38,1292.49 2206.03,1292.49 2210.69,1292.49 2215.34,1292.50 2220.00,1292.50" fill="none" stroke="#0000ff" stroke-width="6" stroke-dasharray="51 28.8" stroke-linejoin="round"/>
<polyline points="308.0,1397.7 342.6,1397.7 386.0,1397.7 436.7,1397.7 498.8,1397.7 579.8,1397.7 691.5,1397.7 880.5,1546.7 964.3,1615.1 1070.7,1671.6 1260.2,1776.5 1451.0,1810.2 1649.1,1844.7 1839.2,1869.0 1909.0,1877.5 2032.5,1887.7 2220.7,1900.5" fill="none" stroke="#ff0000" stroke-width="6" stroke-linejoin="round"/>
<path d="M286.0 1397.7H330.0M308.0 1376.7V1418.7M320.6 1397.7H364.6M342.6 1376.7V1418.7M364.0 1397.7H408.0M386.0 1376.7V1418.7M414.7 1397.7H458.7M436.7 1376.7V1418.7M476.8 1397.7H520.8M498.8 1376.7V1418.7M557.8 1397.7H601.8M579.8 1376.7V1418.7M669.5 1397.7H713.5M691.5 1376.7V1418.7M858.5 1546.7H902.5M880.5 1525.7V1567.7M1048.7 1671.6H1092.7M1070.7 1650.6V1692.6M1238.2 1776.5H1282.2M1260.2 1755.5V1797.5M1429.0 1810.2H1473.0M1451.0 1789.2V1831.2M1627.1 1844.7H1671.1M1649.1 1823.7V1865.7M1817.2 1869.0H1861.2M1839.2 1848.0V1890.0M2010.5 1887.7H2054.5M2032.5 1866.7V1908.7M2198.7 1900.5H2242.7M2220.7 1879.5V1921.5" stroke="#ff0000" stroke-width="6.2" fill="none"/>
<path d="M294.0 2007.5L322.0 2035.5M294.0 2035.5L322.0 2007.5M329.7 1564.4L357.7 1592.4M329.7 1592.4L357.7 1564.4M371.4 1415.6L399.4 1443.6M371.4 1443.6L399.4 1415.6M422.7 1364.6L450.7 1392.6M422.7 1392.6L450.7 1364.6M484.8 1331.1L512.8 1359.1M484.8 1359.1L512.8 1331.1M565.5 1284.2L593.5 1312.2M565.5 1312.2L593.5 1284.2M677.5 1283.2L705.5 1311.2M677.5 1311.2L705.5 1283.2M866.5 1277.1L894.5 1305.1M866.5 1305.1L894.5 1277.1M1057.9 1272.9L1085.9 1300.9M1057.9 1300.9L1085.9 1272.9M1248.0 1272.5L1276.0 1300.5M1248.0 1300.5L1276.0 1272.5M1438.0 1273.0L1466.0 1301.0M1438.0 1301.0L1466.0 1273.0M1635.1 1274.7L1663.1 1302.7M1635.1 1302.7L1663.1 1274.7M1825.2 1276.3L1853.2 1304.3M1825.2 1304.3L1853.2 1276.3M2019.8 1277.9L2047.8 1305.9M2019.8 1305.9L2047.8 1277.9M2206.0 1278.5L2234.0 1306.5M2206.0 1306.5L2234.0 1278.5" stroke="#0000ff" stroke-width="6" fill="none"/>
<rect x="1455.8" y="1417.2" width="618.5" height="209.8" fill="#fff" stroke="#000" stroke-width="6"/>
<text class="t" x="1513.47" y="1496.10" font-size="72" textLength="201.38" lengthAdjust="spacingAndGlyphs">Torque</text>
<text class="t" x="1511.41" y="1578.20" font-size="72" textLength="288.41" lengthAdjust="spacingAndGlyphs">Efficiency</text>
<line x1="1832.30" y1="1477.90" x2="2025.80" y2="1477.90" stroke="#ff0000" stroke-width="5.7"/>
<line x1="1930.40" y1="1456.40" x2="1930.40" y2="1500.00" stroke="#ff0000" stroke-width="6.5"/>
<line x1="1833.60" y1="1558.30" x2="2028.00" y2="1558.30" stroke="#0000ff" stroke-width="6" stroke-dasharray="53.2 26.5"/>
<path d="M1916.4 1544.3L1944.4 1572.3M1916.4 1572.3L1944.4 1544.3" stroke="#0000ff" stroke-width="6" fill="none"/>
<text class="t" x="143.92" y="1244.80" font-size="71" textLength="107.96" lengthAdjust="spacingAndGlyphs">750</text>
<text class="t" x="145.43" y="1400.40" font-size="71" textLength="105.69" lengthAdjust="spacingAndGlyphs">600</text>
<text class="t" x="146.61" y="1561.70" font-size="71" textLength="104.48" lengthAdjust="spacingAndGlyphs">450</text>
<text class="t" x="144.82" y="1722.40" font-size="71" textLength="104.47" lengthAdjust="spacingAndGlyphs">300</text>
<text class="t" x="143.89" y="1885.80" font-size="71" textLength="103.47" lengthAdjust="spacingAndGlyphs">150</text>
<text class="t" x="213.26" y="2042.90" font-size="71" textLength="35.48" lengthAdjust="spacingAndGlyphs">0</text>
<text class="t" x="2229.36" y="1245.40" font-size="71" textLength="102.37" lengthAdjust="spacingAndGlyphs">100</text>
<text class="t" x="2232.65" y="1400.50" font-size="71" textLength="68.80" lengthAdjust="spacingAndGlyphs">80</text>
<text class="t" x="2233.24" y="1561.50" font-size="71" textLength="70.16" lengthAdjust="spacingAndGlyphs">60</text>
<text class="t" x="2234.01" y="1722.40" font-size="71" textLength="69.36" lengthAdjust="spacingAndGlyphs">40</text>
<text class="t" x="2232.80" y="1885.50" font-size="71" textLength="73.44" lengthAdjust="spacingAndGlyphs">20</text>
<text class="t" x="2235.80" y="2042.90" font-size="71" textLength="35.00" lengthAdjust="spacingAndGlyphs">0</text>
<text class="t" x="290.52" y="2113.70" font-size="71" textLength="34.97" lengthAdjust="spacingAndGlyphs">0</text>
<text class="t" x="621.50" y="2113.70" font-size="71" textLength="139.87" lengthAdjust="spacingAndGlyphs">1200</text>
<text class="t" x="1003.25" y="2113.70" font-size="71" textLength="139.87" lengthAdjust="spacingAndGlyphs">2400</text>
<text class="t" x="1385.76" y="2113.70" font-size="71" textLength="139.87" lengthAdjust="spacingAndGlyphs">3600</text>
<text class="t" x="1769.48" y="2113.70" font-size="71" textLength="139.87" lengthAdjust="spacingAndGlyphs">4800</text>
<text class="t" x="2151.29" y="2113.70" font-size="71" textLength="139.87" lengthAdjust="spacingAndGlyphs">6000</text>
<text class="t" x="952.12" y="2172.90" font-size="72" textLength="628.41" lengthAdjust="spacingAndGlyphs">Operating speed (rpm)</text>
<text class="t" x="-1.39" y="0.00" font-size="72" textLength="364.96" lengthAdjust="spacingAndGlyphs" transform="translate(117.40,1789.70) rotate(-90)">Torque (Nm)</text>
<text class="t" x="-2.06" y="0.00" font-size="72" textLength="403.95" lengthAdjust="spacingAndGlyphs" transform="translate(2387.40,1800.50) rotate(-90)">Efficiency (%)</text>
<line x1="308.00" y1="3002.30" x2="2221.40" y2="3002.30" stroke="#bebebe" stroke-width="5" stroke-dasharray="12.9 7.05" stroke-dashoffset="18.6"/>
<line x1="308.00" y1="2839.80" x2="2221.40" y2="2839.80" stroke="#bebebe" stroke-width="5" stroke-dasharray="12.9 7.05" stroke-dashoffset="6.75"/>
<line x1="308.00" y1="2678.40" x2="2221.40" y2="2678.40" stroke="#bebebe" stroke-width="5" stroke-dasharray="12.9 7.05" stroke-dashoffset="4.85"/>
<line x1="308.00" y1="2517.20" x2="2221.40" y2="2517.20" stroke="#bebebe" stroke-width="5" stroke-dasharray="12.9 7.05" stroke-dashoffset="4.85"/>
<line x1="308.00" y1="2362.20" x2="308.00" y2="3159.20" stroke="#000" stroke-width="6"/>
<line x1="260.00" y1="2362.20" x2="2224.40" y2="2362.20" stroke="#000" stroke-width="6"/>
<line x1="260.00" y1="3159.20" x2="2224.40" y2="3159.20" stroke="#000" stroke-width="6"/>
<line x1="2221.40" y1="2359.20" x2="2221.40" y2="3195.30" stroke="#000" stroke-width="6"/>
<line x1="285.00" y1="3076.30" x2="308.00" y2="3076.30" stroke="#000" stroke-width="5"/>
<line x1="2195.90" y1="3076.30" x2="2221.40" y2="3076.30" stroke="#000" stroke-width="5"/>
<line x1="260.00" y1="3002.30" x2="308.00" y2="3002.30" stroke="#000" stroke-width="5"/>
<line x1="2173.40" y1="3002.30" x2="2221.40" y2="3002.30" stroke="#000" stroke-width="5"/>
<line x1="285.00" y1="2920.80" x2="308.00" y2="2920.80" stroke="#000" stroke-width="5"/>
<line x1="2195.90" y1="2920.80" x2="2221.40" y2="2920.80" stroke="#000" stroke-width="5"/>
<line x1="260.00" y1="2839.80" x2="308.00" y2="2839.80" stroke="#000" stroke-width="5"/>
<line x1="2173.40" y1="2839.80" x2="2221.40" y2="2839.80" stroke="#000" stroke-width="5"/>
<line x1="285.00" y1="2760.00" x2="308.00" y2="2760.00" stroke="#000" stroke-width="5"/>
<line x1="2195.90" y1="2760.00" x2="2221.40" y2="2760.00" stroke="#000" stroke-width="5"/>
<line x1="260.00" y1="2678.40" x2="308.00" y2="2678.40" stroke="#000" stroke-width="5"/>
<line x1="2173.40" y1="2678.40" x2="2221.40" y2="2678.40" stroke="#000" stroke-width="5"/>
<line x1="285.00" y1="2597.60" x2="308.00" y2="2597.60" stroke="#000" stroke-width="5"/>
<line x1="2195.90" y1="2597.60" x2="2221.40" y2="2597.60" stroke="#000" stroke-width="5"/>
<line x1="260.00" y1="2517.20" x2="308.00" y2="2517.20" stroke="#000" stroke-width="5"/>
<line x1="2173.40" y1="2517.20" x2="2221.40" y2="2517.20" stroke="#000" stroke-width="5"/>
<line x1="285.00" y1="2442.20" x2="308.00" y2="2442.20" stroke="#000" stroke-width="5"/>
<line x1="2195.90" y1="2442.20" x2="2221.40" y2="2442.20" stroke="#000" stroke-width="5"/>
<line x1="308.00" y1="3159.20" x2="308.00" y2="3196.80" stroke="#000" stroke-width="5"/>
<line x1="499.34" y1="3159.20" x2="499.34" y2="3181.80" stroke="#000" stroke-width="5"/>
<line x1="499.34" y1="2362.20" x2="499.34" y2="2385.30" stroke="#000" stroke-width="5"/>
<line x1="690.68" y1="3159.20" x2="690.68" y2="3196.30" stroke="#000" stroke-width="5"/>
<line x1="690.68" y1="2362.20" x2="690.68" y2="2401.80" stroke="#000" stroke-width="5"/>
<line x1="882.02" y1="3159.20" x2="882.02" y2="3181.80" stroke="#000" stroke-width="5"/>
<line x1="882.02" y1="2362.20" x2="882.02" y2="2385.30" stroke="#000" stroke-width="5"/>
<line x1="1073.36" y1="3159.20" x2="1073.36" y2="3196.30" stroke="#000" stroke-width="5"/>
<line x1="1073.36" y1="2362.20" x2="1073.36" y2="2401.80" stroke="#000" stroke-width="5"/>
<line x1="1264.70" y1="3159.20" x2="1264.70" y2="3181.80" stroke="#000" stroke-width="5"/>
<line x1="1264.70" y1="2362.20" x2="1264.70" y2="2385.30" stroke="#000" stroke-width="5"/>
<line x1="1456.04" y1="3159.20" x2="1456.04" y2="3196.30" stroke="#000" stroke-width="5"/>
<line x1="1456.04" y1="2362.20" x2="1456.04" y2="2401.80" stroke="#000" stroke-width="5"/>
<line x1="1647.38" y1="3159.20" x2="1647.38" y2="3181.80" stroke="#000" stroke-width="5"/>
<line x1="1647.38" y1="2362.20" x2="1647.38" y2="2385.30" stroke="#000" stroke-width="5"/>
<line x1="1838.72" y1="3159.20" x2="1838.72" y2="3196.30" stroke="#000" stroke-width="5"/>
<line x1="1838.72" y1="2362.20" x2="1838.72" y2="2401.80" stroke="#000" stroke-width="5"/>
<line x1="2030.06" y1="3159.20" x2="2030.06" y2="3181.80" stroke="#000" stroke-width="5"/>
<line x1="2030.06" y1="2362.20" x2="2030.06" y2="2385.30" stroke="#000" stroke-width="5"/>
<polyline points="308.00,3159.20 308.09,3153.66 308.21,3148.13 308.35,3142.59 308.51,3137.05 308.69,3131.52 308.89,3125.98 309.10,3120.45 309.32,3114.91 309.56,3109.37 309.81,3103.84 310.07,3098.30 310.34,3092.76 310.61,3087.23 310.90,3081.69 311.19,3076.16 311.48,3070.62 311.78,3065.08 312.08,3059.55 312.39,3054.01 312.70,3048.47 313.01,3042.94 313.32,3037.40 313.63,3031.87 313.94,3026.33 314.25,3020.79 314.56,3015.26 314.87,3009.72 315.17,3004.18 315.48,2998.65 315.78,2993.11 316.08,2987.58 316.38,2982.04 316.68,2976.50 316.98,2970.97 317.27,2965.43 317.57,2959.89 317.86,2954.36 318.16,2948.82 318.45,2943.29 318.75,2937.75 319.04,2932.21 319.34,2926.68 319.64,2921.14 319.94,2915.61 320.25,2910.07 320.56,2904.53 320.88,2899.00 321.20,2893.46 321.53,2887.92 321.87,2882.39 322.22,2876.85 322.58,2871.32 322.95,2865.78 323.34,2860.24 323.74,2854.71 324.15,2849.17 324.59,2843.63 325.04,2838.10 325.51,2832.56 326.01,2827.03 326.53,2821.49 327.08,2815.95 327.65,2810.42 328.26,2804.88 328.89,2799.34 329.56,2793.81 330.26,2788.27 331.01,2782.74 331.79,2777.20 332.61,2771.66 333.48,2766.13 334.40,2760.59 335.36,2755.05 336.38,2749.52 337.45,2743.98 338.57,2738.45 339.76,2732.91 341.01,2727.37 342.32,2721.84 343.70,2716.30 343.95,2715.26 344.20,2714.22 344.45,2713.19 344.69,2712.17 344.94,2711.15 345.18,2710.13 345.42,2709.12 345.66,2708.11 345.90,2707.10 346.14,2706.09 346.38,2705.08 346.63,2704.07 346.87,2703.06 347.11,2702.05 347.35,2701.03 347.59,2700.01 347.84,2698.99 348.09,2697.96 348.34,2696.92 348.59,2695.88 348.84,2694.83 349.10,2693.77 349.36,2692.70 349.63,2691.62 349.90,2690.53 350.17,2689.43 350.44,2688.32 350.72,2687.19 351.01,2686.05 351.30,2684.90 351.68,2683.42 352.07,2681.91 352.47,2680.37 352.89,2678.79 353.32,2677.18 353.76,2675.55 354.20,2673.89 354.66,2672.22 355.12,2670.52 355.59,2668.81 356.06,2667.09 356.54,2665.36 357.01,2663.63 357.49,2661.89 357.97,2660.15 358.44,2658.41 358.91,2656.67 359.38,2654.95 359.84,2653.23 360.29,2651.52 360.74,2649.84 361.18,2648.17 361.61,2646.52 362.02,2644.89 362.42,2643.29 362.81,2641.73 363.18,2640.19 363.54,2638.69 363.88,2637.22 364.20,2635.80 364.42,2634.77 364.62,2633.76 364.80,2632.76 364.97,2631.78 365.13,2630.80 365.27,2629.84 365.40,2628.89 365.53,2627.95 365.65,2627.02 365.76,2626.10 365.86,2625.19 365.97,2624.29 366.07,2623.39 366.17,2622.50 366.27,2621.62 366.38,2620.74 366.49,2619.86 366.61,2618.99 366.74,2618.12 366.88,2617.26 367.02,2616.39 367.18,2615.53 367.36,2614.67 367.55,2613.81 367.75,2612.95 367.98,2612.08 368.23,2611.22 368.49,2610.35 368.78,2609.48 369.10,2608.60 369.46,2607.66 369.83,2606.74 370.20,2605.82 370.59,2604.91 371.00,2604.01 371.41,2603.11 371.83,2602.22 372.27,2601.34 372.71,2600.46 373.17,2599.58 373.65,2598.71 374.13,2597.83 374.63,2596.96 375.14,2596.09 375.67,2595.21 376.21,2594.33 376.77,2593.45 377.34,2592.57 377.92,2591.68 378.52,2590.78 379.13,2589.88 379.76,2588.97 380.41,2588.05 381.07,2587.12 381.75,2586.18 382.45,2585.23 383.16,2584.27 383.89,2583.29 384.64,2582.30 385.40,2581.30 386.69,2579.39 387.99,2577.50 389.28,2575.63 390.58,2573.79 391.88,2571.98 393.17,2570.19 394.46,2568.43 395.76,2566.69 397.06,2564.98 398.35,2563.30 399.64,2561.65 400.94,2560.03 402.23,2558.43 403.53,2556.87 404.82,2555.33 406.12,2553.82 407.41,2552.34 408.71,2550.90 410.00,2549.48 411.30,2548.10 412.59,2546.75 413.89,2545.43 415.19,2544.14 416.48,2542.89 417.77,2541.67 419.07,2540.48 420.37,2539.32 421.66,2538.21 422.95,2537.12 424.25,2536.07 425.54,2535.06 426.84,2534.08 428.13,2533.14 429.43,2532.24 430.72,2531.37 432.02,2530.54 433.31,2529.75 434.61,2528.99 435.90,2528.28 437.20,2527.60 438.74,2526.82 440.28,2526.03 441.82,2525.24 443.36,2524.45 444.90,2523.65 446.44,2522.85 447.98,2522.06 449.52,2521.26 451.06,2520.46 452.60,2519.66 454.14,2518.86 455.68,2518.07 457.22,2517.27 458.76,2516.48 460.30,2515.70 461.84,2514.91 463.38,2514.13 464.92,2513.36 466.46,2512.59 468.00,2511.83 469.54,2511.07 471.08,2510.32 472.62,2509.58 474.16,2508.85 475.70,2508.12 477.24,2507.41 478.78,2506.71 480.32,2506.01 481.86,2505.33 483.40,2504.66 484.94,2504.00 486.48,2503.35 488.02,2502.72 489.56,2502.10 491.10,2501.49 492.64,2500.90 494.18,2500.33 495.72,2499.77 497.26,2499.23 498.80,2498.70 500.82,2498.02 502.84,2497.34 504.85,2496.66 506.87,2495.98 508.89,2495.30 510.91,2494.62 512.92,2493.94 514.94,2493.26 516.96,2492.59 518.98,2491.91 520.99,2491.23 523.01,2490.56 525.03,2489.89 527.04,2489.22 529.06,2488.55 531.08,2487.88 533.10,2487.22 535.12,2486.57 537.13,2485.91 539.15,2485.26 541.17,2484.62 543.19,2483.98 545.20,2483.34 547.22,2482.71 549.24,2482.09 551.25,2481.47 553.27,2480.86 555.29,2480.25 557.31,2479.65 559.33,2479.06 561.34,2478.48 563.36,2477.90 565.38,2477.33 567.39,2476.77 569.41,2476.22 571.43,2475.68 573.45,2475.14 575.47,2474.62 577.48,2474.10 579.50,2473.60 582.31,2472.91 585.12,2472.22 587.92,2471.53 590.73,2470.85 593.54,2470.17 596.35,2469.49 599.15,2468.82 601.96,2468.15 604.77,2467.49 607.58,2466.83 610.38,2466.18 613.19,2465.53 616.00,2464.89 618.80,2464.25 621.61,2463.62 624.42,2463.00 627.23,2462.38 630.03,2461.77 632.84,2461.16 635.65,2460.56 638.46,2459.97 641.26,2459.38 644.07,2458.81 646.88,2458.24 649.69,2457.67 652.50,2457.12 655.30,2456.57 658.11,2456.03 660.92,2455.51 663.72,2454.98 666.53,2454.47 669.34,2453.97 672.15,2453.48 674.95,2452.99 677.76,2452.52 680.57,2452.05 683.38,2451.60 686.18,2451.16 688.99,2450.72 691.80,2450.30 696.53,2449.60 701.26,2448.91 705.99,2448.23 710.72,2447.56 715.45,2446.89 720.18,2446.23 724.91,2445.59 729.64,2444.95 734.37,2444.32 739.10,2443.70 743.83,2443.09 748.56,2442.49 753.29,2441.90 758.02,2441.31 762.75,2440.74 767.48,2440.18 772.21,2439.63 776.94,2439.08 781.67,2438.55 786.40,2438.03 791.13,2437.52 795.86,2437.02 800.59,2436.52 805.32,2436.04 810.05,2435.58 814.78,2435.12 819.51,2434.67 824.24,2434.23 828.97,2433.81 833.70,2433.39 838.43,2432.99 843.16,2432.60 847.89,2432.22 852.62,2431.85 857.35,2431.50 862.08,2431.15 866.81,2430.82 871.54,2430.50 876.27,2430.19 881.00,2429.90 885.77,2429.61 890.54,2429.32 895.32,2429.04 900.09,2428.76 904.86,2428.49 909.63,2428.22 914.41,2427.96 919.18,2427.70 923.95,2427.44 928.73,2427.19 933.50,2426.95 938.27,2426.71 943.04,2426.47 947.82,2426.24 952.59,2426.02 957.36,2425.81 962.13,2425.60 966.91,2425.40 971.68,2425.20 976.45,2425.01 981.22,2424.83 986.00,2424.66 990.77,2424.49 995.54,2424.33 1000.31,2424.18 1005.09,2424.04 1009.86,2423.90 1014.63,2423.78 1019.40,2423.66 1024.18,2423.55 1028.95,2423.45 1033.72,2423.36 1038.49,2423.28 1043.27,2423.21 1048.04,2423.15 1052.81,2423.10 1057.58,2423.06 1062.36,2423.03 1067.13,2423.01 1071.90,2423.00 1076.65,2423.00 1081.41,2423.00 1086.16,2423.00 1090.91,2423.00 1095.66,2423.01 1100.41,2423.01 1105.17,2423.02 1109.92,2423.04 1114.67,2423.05 1119.43,2423.07 1124.18,2423.10 1128.93,2423.12 1133.68,2423.15 1138.43,2423.19 1143.19,2423.23 1147.94,2423.27 1152.69,2423.32 1157.45,2423.37 1162.20,2423.43 1166.95,2423.49 1171.70,2423.56 1176.46,2423.64 1181.21,2423.72 1185.96,2423.81 1190.71,2423.90 1195.47,2424.00 1200.22,2424.11 1204.97,2424.22 1209.72,2424.34 1214.47,2424.47 1219.23,2424.60 1223.98,2424.75 1228.73,2424.90 1233.49,2425.06 1238.24,2425.23 1242.99,2425.40 1247.74,2425.59 1252.49,2425.78 1257.25,2425.99 1262.00,2426.20 1266.72,2426.42 1271.45,2426.64 1276.17,2426.87 1280.90,2427.10 1285.62,2427.33 1290.35,2427.56 1295.08,2427.80 1299.80,2428.04 1304.53,2428.29 1309.25,2428.54 1313.97,2428.78 1318.70,2429.03 1323.42,2429.29 1328.15,2429.54 1332.88,2429.80 1337.60,2430.05 1342.33,2430.31 1347.05,2430.57 1351.78,2430.83 1356.50,2431.09 1361.22,2431.35 1365.95,2431.61 1370.67,2431.87 1375.40,2432.13 1380.12,2432.39 1384.85,2432.64 1389.58,2432.90 1394.30,2433.16 1399.03,2433.42 1403.75,2433.67 1408.47,2433.92 1413.20,2434.17 1417.92,2434.42 1422.65,2434.67 1427.38,2434.92 1432.10,2435.16 1436.83,2435.40 1441.55,2435.64 1446.28,2435.87 1451.00,2436.10 1455.95,2436.34 1460.90,2436.58 1465.86,2436.82 1470.81,2437.06 1475.76,2437.30 1480.71,2437.53 1485.67,2437.77 1490.62,2438.00 1495.57,2438.24 1500.53,2438.47 1505.48,2438.70 1510.43,2438.93 1515.38,2439.16 1520.34,2439.38 1525.29,2439.61 1530.24,2439.83 1535.19,2440.05 1540.14,2440.26 1545.10,2440.48 1550.05,2440.69 1555.00,2440.89 1559.95,2441.10 1564.91,2441.30 1569.86,2441.50 1574.81,2441.69 1579.76,2441.88 1584.72,2442.07 1589.67,2442.26 1594.62,2442.43 1599.57,2442.61 1604.53,2442.78 1609.48,2442.95 1614.43,2443.11 1619.38,2443.27 1624.34,2443.42 1629.29,2443.56 1634.24,2443.71 1639.19,2443.84 1644.15,2443.97 1649.10,2444.10 1653.85,2444.20 1658.61,2444.26 1663.36,2444.29 1668.11,2444.29 1672.86,2444.25 1677.62,2444.19 1682.37,2444.10 1687.12,2443.98 1691.87,2443.84 1696.62,2443.68 1701.38,2443.49 1706.13,2443.29 1710.88,2443.08 1715.63,2442.85 1720.39,2442.60 1725.14,2442.35 1729.89,2442.08 1734.64,2441.81 1739.40,2441.54 1744.15,2441.26 1748.90,2440.98 1753.65,2440.70 1758.41,2440.42 1763.16,2440.14 1767.91,2439.87 1772.66,2439.61 1777.42,2439.35 1782.17,2439.11 1786.92,2438.88 1791.67,2438.66 1796.43,2438.46 1801.18,2438.28 1805.93,2438.12 1810.68,2437.98 1815.44,2437.86 1820.19,2437.77 1824.94,2437.71 1829.69,2437.67 1834.45,2437.67 1839.20,2437.70 1844.07,2437.75 1848.93,2437.80 1853.80,2437.85 1858.66,2437.90 1863.53,2437.95 1868.39,2438.01 1873.26,2438.06 1878.12,2438.12 1882.99,2438.17 1887.85,2438.23 1892.71,2438.29 1897.58,2438.35 1902.44,2438.40 1907.31,2438.46 1912.17,2438.52 1917.04,2438.58 1921.90,2438.64 1926.77,2438.70 1931.63,2438.76 1936.50,2438.82 1941.37,2438.88 1946.23,2438.94 1951.10,2439.00 1955.96,2439.06 1960.83,2439.12 1965.69,2439.18 1970.56,2439.24 1975.42,2439.29 1980.28,2439.35 1985.15,2439.41 1990.01,2439.46 1994.88,2439.51 1999.74,2439.57 2004.61,2439.62 2009.47,2439.67 2014.34,2439.72 2019.20,2439.77 2024.07,2439.81 2028.93,2439.86 2033.80,2439.90 2038.45,2439.94 2043.11,2439.98 2047.76,2440.02 2052.42,2440.06 2057.07,2440.11 2061.73,2440.15 2066.38,2440.19 2071.04,2440.23 2075.70,2440.27 2080.35,2440.32 2085.01,2440.36 2089.66,2440.40 2094.32,2440.44 2098.97,2440.48 2103.62,2440.53 2108.28,2440.57 2112.93,2440.61 2117.59,2440.65 2122.24,2440.69 2126.90,2440.74 2131.55,2440.78 2136.21,2440.82 2140.86,2440.86 2145.52,2440.90 2150.18,2440.94 2154.83,2440.98 2159.49,2441.02 2164.14,2441.06 2168.80,2441.10 2173.45,2441.14 2178.11,2441.18 2182.76,2441.21 2187.41,2441.25 2192.07,2441.29 2196.72,2441.32 2201.38,2441.36 2206.03,2441.40 2210.69,2441.43 2215.34,2441.47 2220.00,2441.50" fill="none" stroke="#0000ff" stroke-width="6" stroke-dasharray="51 28.8" stroke-linejoin="round"/>
<polyline points="308.0,2609.9 342.6,2609.9 386.0,2609.9 436.7,2609.9 498.8,2609.9 579.8,2609.9 691.5,2609.9 880.5,2743.3 966.2,2804.7 1070.7,2855.4 1260.2,2945.0 1451.0,2976.7 1649.1,3004.7 1839.2,3028.3 1909.0,3037.5 2032.5,3044.4 2220.7,3056.6" fill="none" stroke="#ff0000" stroke-width="6" stroke-linejoin="round"/>
<path d="M286.0 2609.9H330.0M308.0 2588.9V2630.9M320.6 2609.9H364.6M342.6 2588.9V2630.9M364.0 2609.9H408.0M386.0 2588.9V2630.9M414.7 2609.9H458.7M436.7 2588.9V2630.9M476.8 2609.9H520.8M498.8 2588.9V2630.9M557.8 2609.9H601.8M579.8 2588.9V2630.9M669.5 2609.9H713.5M691.5 2588.9V2630.9M858.5 2743.3H902.5M880.5 2722.3V2764.3M1048.7 2855.4H1092.7M1070.7 2834.4V2876.4M1238.2 2945.0H1282.2M1260.2 2924.0V2966.0M1429.0 2976.7H1473.0M1451.0 2955.7V2997.7M1627.1 3004.7H1671.1M1649.1 2983.7V3025.7M1817.2 3028.3H1861.2M1839.2 3007.3V3049.3M2010.5 3044.4H2054.5M2032.5 3023.4V3065.4M2198.7 3056.6H2242.7M2220.7 3035.6V3077.6" stroke="#ff0000" stroke-width="6.2" fill="none"/>
<path d="M294.0 3145.2L322.0 3173.2M294.0 3173.2L322.0 3145.2M329.7 2702.3L357.7 2730.3M329.7 2730.3L357.7 2702.3M371.4 2567.3L399.4 2595.3M371.4 2595.3L399.4 2567.3M423.2 2513.6L451.2 2541.6M423.2 2541.6L451.2 2513.6M484.8 2484.7L512.8 2512.7M484.8 2512.7L512.8 2484.7M565.5 2459.6L593.5 2487.6M565.5 2487.6L593.5 2459.6M677.8 2436.3L705.8 2464.3M677.8 2464.3L705.8 2436.3M867.0 2415.9L895.0 2443.9M867.0 2443.9L895.0 2415.9M1057.9 2409.0L1085.9 2437.0M1057.9 2437.0L1085.9 2409.0M1248.0 2412.2L1276.0 2440.2M1248.0 2440.2L1276.0 2412.2M1437.0 2422.1L1465.0 2450.1M1437.0 2450.1L1465.0 2422.1M1635.1 2430.1L1663.1 2458.1M1635.1 2458.1L1663.1 2430.1M1825.2 2423.7L1853.2 2451.7M1825.2 2451.7L1853.2 2423.7M2019.8 2425.9L2047.8 2453.9M2019.8 2453.9L2047.8 2425.9M2206.0 2427.5L2234.0 2455.5M2206.0 2455.5L2234.0 2427.5" stroke="#0000ff" stroke-width="6" fill="none"/>
<rect x="1455.8" y="2554.9" width="618.5" height="209.8" fill="#fff" stroke="#000" stroke-width="6"/>
<text class="t" x="1513.47" y="2633.80" font-size="72" textLength="201.38" lengthAdjust="spacingAndGlyphs">Torque</text>
<text class="t" x="1511.41" y="2715.90" font-size="72" textLength="288.41" lengthAdjust="spacingAndGlyphs">Efficiency</text>
<line x1="1832.30" y1="2615.60" x2="2025.80" y2="2615.60" stroke="#ff0000" stroke-width="5.7"/>
<line x1="1930.40" y1="2594.10" x2="1930.40" y2="2637.70" stroke="#ff0000" stroke-width="6.5"/>
<line x1="1833.60" y1="2696.00" x2="2028.00" y2="2696.00" stroke="#0000ff" stroke-width="6" stroke-dasharray="53.2 26.5"/>
<path d="M1916.4 2682.0L1944.4 2710.0M1916.4 2710.0L1944.4 2682.0" stroke="#0000ff" stroke-width="6" fill="none"/>
<text class="t" x="143.92" y="2382.50" font-size="71" textLength="107.96" lengthAdjust="spacingAndGlyphs">750</text>
<text class="t" x="145.43" y="2538.10" font-size="71" textLength="105.69" lengthAdjust="spacingAndGlyphs">600</text>
<text class="t" x="146.61" y="2699.40" font-size="71" textLength="104.48" lengthAdjust="spacingAndGlyphs">450</text>
<text class="t" x="144.82" y="2860.10" font-size="71" textLength="104.47" lengthAdjust="spacingAndGlyphs">300</text>
<text class="t" x="143.89" y="3023.50" font-size="71" textLength="103.47" lengthAdjust="spacingAndGlyphs">150</text>
<text class="t" x="213.26" y="3180.60" font-size="71" textLength="35.48" lengthAdjust="spacingAndGlyphs">0</text>
<text class="t" x="2229.36" y="2383.10" font-size="71" textLength="102.37" lengthAdjust="spacingAndGlyphs">100</text>
<text class="t" x="2232.65" y="2538.20" font-size="71" textLength="68.80" lengthAdjust="spacingAndGlyphs">80</text>
<text class="t" x="2233.24" y="2699.20" font-size="71" textLength="70.16" lengthAdjust="spacingAndGlyphs">60</text>
<text class="t" x="2234.01" y="2860.10" font-size="71" textLength="69.36" lengthAdjust="spacingAndGlyphs">40</text>
<text class="t" x="2232.80" y="3023.20" font-size="71" textLength="73.44" lengthAdjust="spacingAndGlyphs">20</text>
<text class="t" x="2235.80" y="3180.60" font-size="71" textLength="35.00" lengthAdjust="spacingAndGlyphs">0</text>
<text class="t" x="290.52" y="3251.40" font-size="71" textLength="34.97" lengthAdjust="spacingAndGlyphs">0</text>
<text class="t" x="621.50" y="3251.40" font-size="71" textLength="139.87" lengthAdjust="spacingAndGlyphs">1200</text>
<text class="t" x="1003.25" y="3251.40" font-size="71" textLength="139.87" lengthAdjust="spacingAndGlyphs">2400</text>
<text class="t" x="1385.76" y="3251.40" font-size="71" textLength="139.87" lengthAdjust="spacingAndGlyphs">3600</text>
<text class="t" x="1769.48" y="3251.40" font-size="71" textLength="139.87" lengthAdjust="spacingAndGlyphs">4800</text>
<text class="t" x="2151.29" y="3251.40" font-size="71" textLength="139.87" lengthAdjust="spacingAndGlyphs">6000</text>
<text class="t" x="952.12" y="3310.60" font-size="72" textLength="628.41" lengthAdjust="spacingAndGlyphs">Operating speed (rpm)</text>
<text class="t" x="-1.39" y="0.00" font-size="72" textLength="364.96" lengthAdjust="spacingAndGlyphs" transform="translate(117.40,2927.40) rotate(-90)">Torque (Nm)</text>
<text class="t" x="-2.06" y="0.00" font-size="72" textLength="403.95" lengthAdjust="spacingAndGlyphs" transform="translate(2387.40,2938.20) rotate(-90)">Efficiency (%)</text>
</g>
<text x="1180.06" y="1146.50" font-size="86" textLength="96.27" lengthAdjust="spacingAndGlyphs"><tspan class="p">(</tspan><tspan font-weight="bold">a</tspan><tspan class="p">)</tspan></text>
<text x="1175.22" y="2283.20" font-size="88" textLength="107.56" lengthAdjust="spacingAndGlyphs"><tspan class="p">(</tspan><tspan font-weight="bold">b</tspan><tspan class="p">)</tspan></text>
<text x="1182.08" y="3422.10" font-size="86" textLength="91.64" lengthAdjust="spacingAndGlyphs"><tspan class="p">(</tspan><tspan font-weight="bold">c</tspan><tspan class="p">)</tspan></text>
</svg></body></html>
